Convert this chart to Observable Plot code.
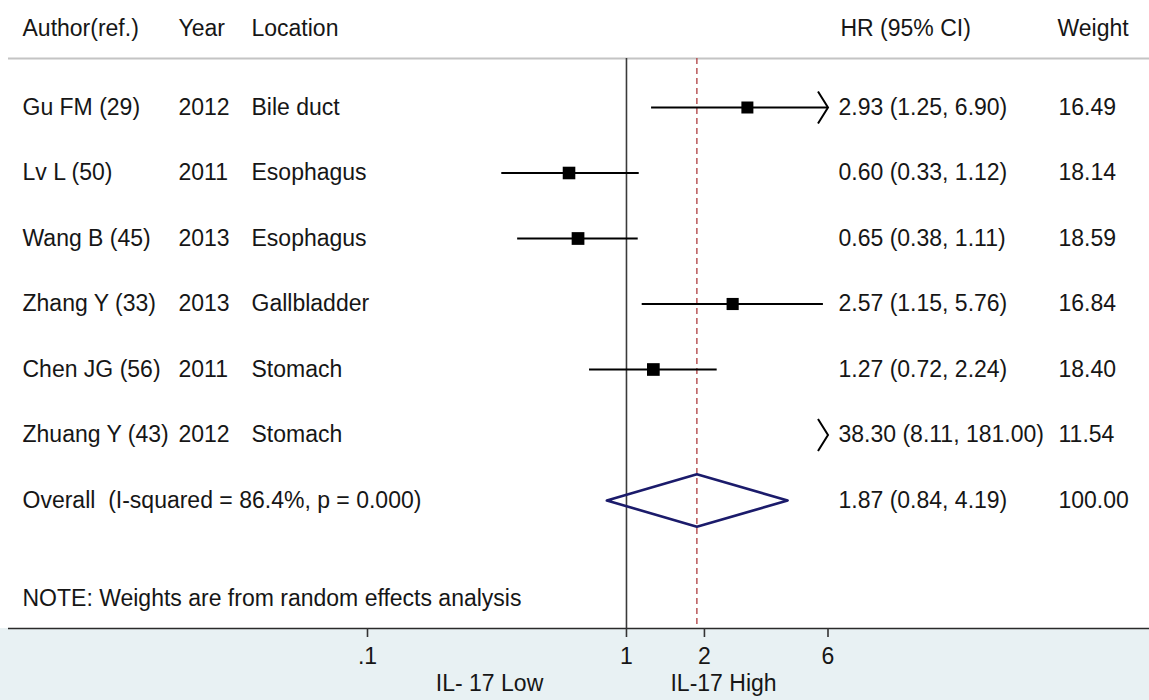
<!DOCTYPE html>
<html>
<head>
<meta charset="utf-8">
<script src="https://cdn.jsdelivr.net/npm/d3@7"></script>
<script src="https://cdn.jsdelivr.net/npm/@observablehq/plot@0.6"></script>
<style>
  html, body { margin: 0; padding: 0; background: #fff; }
  #chart svg { display: block; }
</style>
</head>
<body>
<div id="chart"></div>
<script>
// Study-level hazard ratios for IL-17 expression (random effects meta-analysis)
const authors   = ["Gu FM (29)", "Lv L (50)", "Wang B (45)", "Zhang Y (33)", "Chen JG (56)", "Zhuang Y (43)"];
const years     = [2012, 2011, 2013, 2013, 2011, 2012];
const locations = ["Bile duct", "Esophagus", "Esophagus", "Gallbladder", "Stomach", "Stomach"];
const hr        = [2.93, 0.60, 0.65, 2.57, 1.27, 38.30];
const lo        = [1.25, 0.33, 0.38, 1.15, 0.72, 8.11];
const hi        = [6.90, 1.12, 1.11, 5.76, 2.24, 181.00];
const weights   = [16.49, 18.14, 18.59, 16.84, 18.40, 11.54];

// Pooled estimate
const overallLabel = "Overall  (I-squared = 86.4%, p = 0.000)";
const overallHR = 1.87, overallLo = 0.84, overallHi = 4.19, overallWeight = 100.00;

// Header, note and axis text
const headers = ["Author(ref.)", "Year", "Location", "HR (95% CI)", "Weight"];
const note = "NOTE: Weights are from random effects analysis";
const xTicks = [0.1, 1, 2, 6];
const xTickLabels = [".1", "1", "2", "6"];
const favourLabels = ["IL- 17 Low", "IL-17 High"];
const favourAt = [0.296, 2.37];

// Layout (rows are in row units on the y scale)
const xMin = 0.1, xMax = 6;
const headerRow = -1.21, headerLineRow = -0.75, noteRow = 7.5, axisRow = 7.955, favourRow = 8.8;
const colDx = {author: 14, year: 170, location: 243, ci: 830, weight: 1050};
const headerDx = [14, 170, 243, 832, 1049];
const diamondHalf = 0.4;
const ink = "#161616";
const font = "'Liberation Sans', Arial, sans-serif";
const fs = 23;

const fmt = v => v.toFixed(2);
const rows = authors.map((a, i) => ({
  row: i, author: a, year: String(years[i]), location: locations[i],
  hr: hr[i], lo: lo[i], hi: hi[i], weight: weights[i],
  ci: `${fmt(hr[i])} (${fmt(lo[i])}, ${fmt(hi[i])})`, w: fmt(weights[i])
}));
const overallRow = rows.length;
const overall = [{row: overallRow, author: overallLabel, year: "", location: "",
  ci: `${fmt(overallHR)} (${fmt(overallLo)}, ${fmt(overallHi)})`, w: fmt(overallWeight)}];
const tableRows = rows.concat(overall);

// Confidence intervals clipped to the axis range
const ciSegs = rows.filter(d => d.lo < xMax && d.hi > xMin)
  .map(d => ({row: d.row, x1: Math.max(d.lo, xMin), x2: Math.min(d.hi, xMax)}));
const rightArrows = rows.filter(d => d.hi > xMax);
const inRange = rows.filter(d => d.hr >= xMin && d.hr <= xMax);

const diamond = [
  {x: overallLo, y: overallRow},
  {x: overallHR, y: overallRow - diamondHalf},
  {x: overallHi, y: overallRow},
  {x: overallHR, y: overallRow + diamondHalf},
  {x: overallLo, y: overallRow}
];

// Open chevron drawn where an interval runs past the axis
const chevron = {
  draw(ctx) {
    ctx.moveTo(-10, -16);
    ctx.lineTo(0, 0);
    ctx.lineTo(-10, 16);
  }
};

const textCol = (key, dx) => Plot.text(tableRows, {
  y: "row", text: key, frameAnchor: "left", textAnchor: "start", dx,
  fontSize: fs, fill: ink
});

const chart = Plot.plot({
  width: 1149,
  height: 700,
  marginTop: 58,
  marginBottom: 72,
  marginLeft: 8,
  marginRight: 0,
  style: {
    fontFamily: font,
    fontSize: `${fs}px`,
    color: ink,
    background: "linear-gradient(to bottom, #ffffff 0px, #ffffff 628px, #e8f1f3 628px, #e8f1f3 700px)"
  },
  x: {type: "log", domain: [xMin, xMax], range: [367, 827.5]},
  y: {domain: [0, 6], range: [107, 500], axis: null},
  r: {type: "sqrt", domain: [0, 16.49], range: [0, 6.77]},
  marks: [
    // header row and rule beneath it
    ...headers.map((h, i) => Plot.text([h], {
      y: () => headerRow, text: d => d, frameAnchor: "left", textAnchor: "start",
      dx: headerDx[i], fontSize: fs, fill: ink
    })),
    Plot.ruleY([headerLineRow], {stroke: "#c4c4c4", strokeWidth: 2}),
    // null line and pooled-estimate line
    Plot.ruleX([1], {stroke: "#3a3a3a", strokeWidth: 1.6}),
    Plot.ruleX([overallHR], {stroke: "#b3494b", strokeWidth: 1.4, strokeDasharray: "6,4"}),
    // study intervals, estimates and clipping arrows
    Plot.ruleY(ciSegs, {y: "row", x1: "x1", x2: "x2", stroke: "#000", strokeWidth: 2}),
    Plot.dot(inRange, {x: "hr", y: "row", r: "weight", symbol: "square", fill: "#000", stroke: "none"}),
    Plot.dot(rightArrows, {x: () => xMax, y: "row", symbol: chevron, fill: "none", stroke: "#000", strokeWidth: 2}),
    // pooled estimate diamond
    Plot.line(diamond, {x: "x", y: "y", stroke: "#1b1b6b", strokeWidth: 2.6}),
    // table columns
    textCol("author", colDx.author),
    textCol("year", colDx.year),
    textCol("location", colDx.location),
    textCol("ci", colDx.ci),
    textCol("w", colDx.weight),
    // note
    Plot.text([note], {y: () => noteRow, text: d => d, frameAnchor: "left", textAnchor: "start",
      dx: colDx.author, fontSize: fs, fill: ink}),
    // axis
    Plot.ruleY([axisRow], {stroke: "#2a2a2a", strokeWidth: 1.6}),
    Plot.axisX({
      ticks: xTicks, tickFormat: d => xTickLabels[xTicks.indexOf(d)],
      tickSize: 9, tickPadding: 10, fontSize: fs, stroke: "#333", strokeWidth: 1.6,
      fill: ink, label: null
    }),
    Plot.text(favourLabels, {x: (d, i) => favourAt[i], y: () => favourRow, text: d => d,
      fontSize: fs, fill: ink})
  ]
});

document.getElementById("chart").appendChild(chart);
</script>
</body>
</html>
